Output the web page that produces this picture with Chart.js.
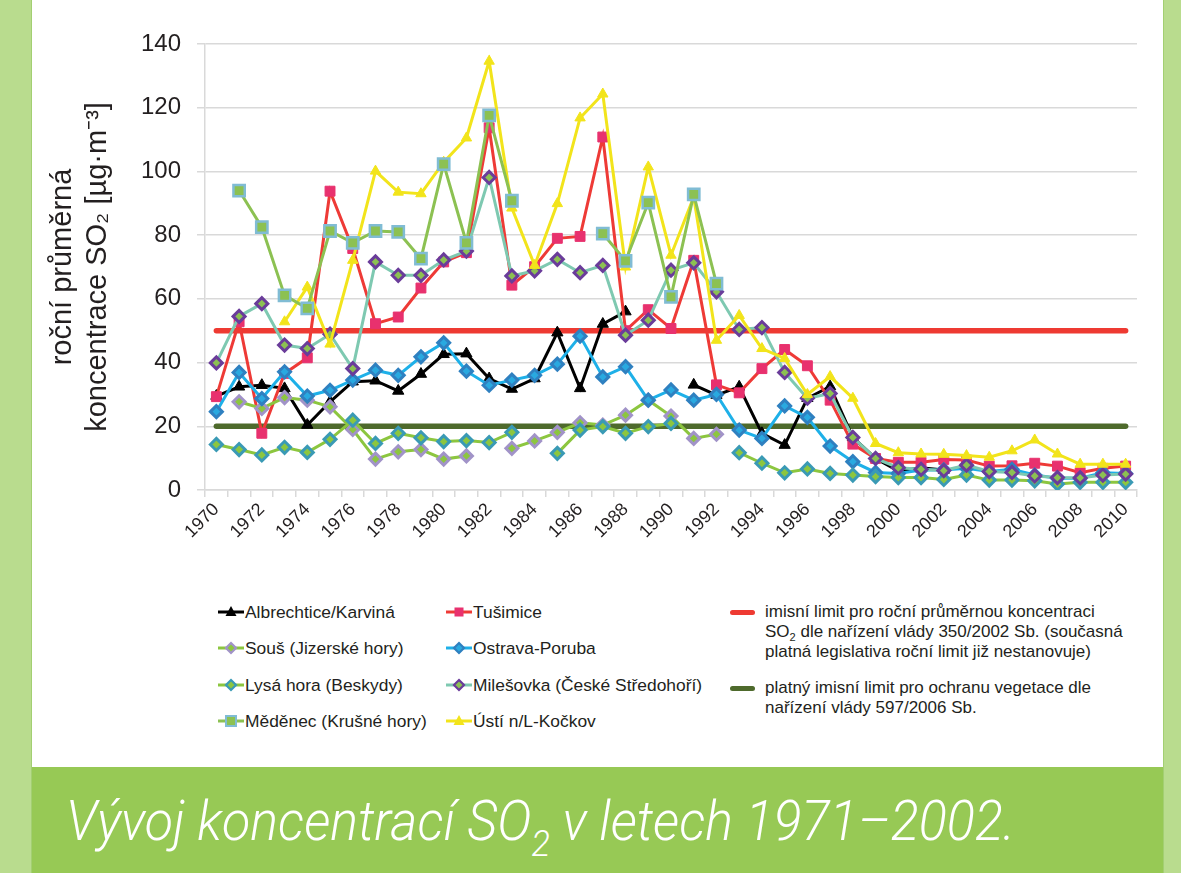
<!DOCTYPE html>
<html lang="cs">
<head>
<meta charset="utf-8">
<title>Vývoj koncentrací SO2</title>
<script src="https://cdn.jsdelivr.net/npm/chart.js@4.4.1/dist/chart.umd.min.js"></script>
<style>
  html, body { margin: 0; padding: 0; }
  body {
    width: 1181px; height: 873px; position: relative; overflow: hidden;
    background: #fff; color: #231f20;
    font-family: "Liberation Sans", Arial, sans-serif;
  }
  .strip { position: absolute; top: 0; bottom: 0; background: #b9dc8e; }
  .strip.left { left: 0; width: 31px; border-right: 1px solid #a3cf72; }
  .strip.right { left: 1163px; width: 18px; border-left: 1px solid #a3cf72; }
  #chartBox { position: absolute; left: 32px; top: 0; width: 1131px; height: 560px; }
  .banner { position: absolute; left: 32px; top: 767px; width: 1131px; height: 106px; background: #97c955; }
  .caption {
    position: absolute; left: 66px; top: 793px; margin: 0;
    font-family: Roboto, "Liberation Sans", sans-serif; font-weight: 300; font-style: italic;
    font-size: 56px; line-height: 56px; color: #fff; white-space: nowrap;
    transform: scaleX(0.93); transform-origin: left top;
  }
  .caption sub { font-size: 0.66em; vertical-align: -0.42em; line-height: 0; }
  .lg { position: absolute; font-size: 17.4px; line-height: 20px; white-space: nowrap; }
  .lg svg { position: absolute; left: -27px; top: 3px; }
  .lg3 { position: absolute; font-size: 17px; line-height: 20px; }
  .lg3 .bar { position: absolute; left: -35px; top: 8px; width: 25px; height: 5px; border-radius: 3px; }
  .lg3 sub { font-size: 0.65em; vertical-align: -0.35em; line-height: 0; }
</style>
</head>
<body>
<div class="strip left"></div>
<div class="strip right"></div>
<div id="chartBox"><canvas id="so2Chart" width="1131" height="560"></canvas></div>

<div id="legend"></div>
<div class="lg3" style="left:765px; top:602px;"><span class="bar" style="background:#ee3a32"></span>imisní limit pro roční průměrnou koncentraci<br>SO<sub>2</sub> dle nařízení vlády 350/2002 Sb. (současná<br>platná legislativa roční limit již nestanovuje)</div>
<div class="lg3" style="left:765px; top:678px;"><span class="bar" style="background:#4e6a2c"></span>platný imisní limit pro ochranu vegetace dle<br>nařízení vlády 597/2006 Sb.</div>

<div class="banner"></div>
<p class="caption">Vývoj koncentrací SO<sub>2</sub> v letech 1971–2002.</p>

<script>
// roky
const years = ['1970','1971','1972','1973','1974','1975','1976','1977','1978','1979',
  '1980','1981','1982','1983','1984','1985','1986','1987','1988','1989',
  '1990','1991','1992','1993','1994','1995','1996','1997','1998','1999',
  '2000','2001','2002','2003','2004','2005','2006','2007','2008','2009','2010'];

// roční průměry SO2 [µg/m3], null = chybí měření
const albrechtice = [29.5, 32.4, 32.9, 31.9, 20.4, 27.7, 34.0, 34.3, 31.1, 36.4,
  42.6, 42.8, 35.0, 31.7, 35.0, 49.4, 31.9, 52.1, 56.0, null,
  null, 33.0, 29.8, 32.4, 17.8, 14.1, 28.8, 32.5, 16.5, 9.9,
  6.0, 7.0, 6.3, null, null, null, null, null, null, null, null];
const tusimice = [29.3, 52.8, 17.8, 36.6, 41.5, 93.8, 75.8, 52.2, 54.3, 63.4,
  71.6, 74.5, 113.7, 64.3, 70.1, 79.0, 79.6, 110.8, 50.0, 56.6,
  50.7, 72.1, 33.0, 30.5, 38.1, 44.1, 39.0, 28.2, 14.4, 9.9,
  8.7, 8.7, 9.6, 9.4, 7.5, 7.6, 8.4, 7.5, 5.4, 6.8, 7.5];
const sous = [null, 27.7, 25.6, 29.0, 28.2, 26.1, 19.0, 9.7, 12.0, 12.7,
  9.7, 10.7, null, 13.1, 15.4, 18.1, 21.1, 20.4, 23.5, 28.2,
  23.2, 16.2, 17.5, null, null, null, null, null, null, null,
  null, null, null, null, null, null, null, null, null, null, null];
const ostrava = [24.6, 36.9, 28.7, 37.1, 29.5, 31.3, 34.5, 37.6, 36.0, 41.8,
  46.2, 37.3, 32.9, 34.5, 36.0, 39.5, 48.3, 35.5, 38.7, 28.2,
  31.4, 28.2, 30.0, 18.8, 16.2, 26.4, 22.8, 13.8, 8.9, 5.5,
  5.2, 6.3, 6.3, 6.8, 5.8, 6.5, 4.7, 3.7, 3.7, 5.4, 5.2];
const lysaHora = [14.3, 12.7, 11.0, 13.4, 11.8, 15.9, 21.9, 14.6, 17.8, 16.4,
  15.2, 15.5, 14.9, 18.1, null, 11.5, 18.8, 19.9, 17.8, 19.9,
  20.9, null, null, 11.7, 8.4, 5.4, 6.6, 5.2, 4.7, 4.2,
  3.9, 3.9, 3.3, 4.7, 3.1, 3.1, 2.9, 1.9, 2.4, 2.4, 2.4];
const milesovka = [39.9, 54.5, 58.5, 45.5, 44.4, 48.9, 38.1, 71.6, 67.4, 67.4,
  72.2, 75.0, 98.1, 67.2, 68.8, 72.4, 68.2, 70.5, 48.6, 53.3,
  69.0, 71.3, 62.2, 50.4, 51.0, 36.9, 28.8, 30.3, 16.5, 9.9,
  7.0, 6.5, 6.1, 7.8, 5.8, 5.5, 4.4, 3.9, 3.8, 4.7, 5.0];
const medenec = [null, 94.0, 82.5, 61.1, 57.0, 81.3, 77.6, 81.3, 81.0, 72.6,
  102.3, 77.6, 117.6, 90.8, null, null, null, 80.5, 71.9, 90.2,
  60.6, 92.8, 64.8, null, null, null, null, null, null, null,
  null, null, null, null, null, null, null, null, null, null, null];
const ustiKockov = [null, null, null, 52.8, 63.7, 45.8, 72.1, 100.1, 93.5, 93.0,
  102.9, 110.5, 134.6, 88.5, 70.5, 89.9, 116.8, 124.3, 70.0, 101.4,
  73.7, 92.0, 47.0, 54.8, 44.4, 41.3, 30.0, 35.6, 28.8, 14.6,
  11.7, 11.3, 11.2, 10.8, 10.3, 12.3, 15.7, 11.3, 8.1, 8.1, 8.1];

// limity
const limitAnnual = 50;      // NV 350/2002
const limitVegetation = 20;  // NV 597/2006

const series = [
  { label: 'Albrechtice/Karviná', data: albrechtice, line: '#000000', fill: '#000000', edge: '#000000', shape: 'triangle', r: 6.5, bw: 1, order: 9 },
  { label: 'Tušimice', data: tusimice, line: '#ee3a36', fill: '#e8316e', edge: '#e8316e', shape: 'rect', r: 7, bw: 1, order: 8 },
  { label: 'Souš (Jizerské hory)', data: sous, line: '#8cc63f', fill: '#8cc63f', edge: '#a193c8', shape: 'rectRot', r: 6, bw: 3, order: 7 },
  { label: 'Ostrava-Poruba', data: ostrava, line: '#1eb0e8', fill: '#29a9e0', edge: '#2f80c0', shape: 'rectRot', r: 6, bw: 3, order: 6 },
  { label: 'Lysá hora (Beskydy)', data: lysaHora, line: '#8cc63f', fill: '#8cc63f', edge: '#3a9ab5', shape: 'rectRot', r: 6, bw: 3, order: 5 },
  { label: 'Milešovka (České Středohoří)', data: milesovka, line: '#7ec9b1', fill: '#8cc152', edge: '#6a3c9a', shape: 'rectRot', r: 6, bw: 3, order: 4 },
  { label: 'Měděnec (Krušné hory)', data: medenec, line: '#8cc152', fill: '#8cc152', edge: '#80bcd4', shape: 'rect', r: 8, bw: 2.5, order: 2 },
  { label: 'Ústí n/L-Kočkov', data: ustiKockov, line: '#f2e41b', fill: '#f2e41b', edge: '#f2e41b', shape: 'triangle', r: 6, bw: 1, order: 3 }
];

const datasets = series.map(s => ({
  label: s.label,
  data: s.data,
  borderColor: s.line,
  borderWidth: 3,
  pointStyle: s.shape,
  pointRadius: s.r,
  pointBackgroundColor: s.fill,
  pointBorderColor: s.edge,
  pointBorderWidth: s.bw,
  tension: 0,
  spanGaps: false,
  order: s.order
}));

datasets.push({
  label: 'imisní limit (roční průměr)',
  data: [{ x: years[0], y: limitAnnual }, { x: years[years.length - 1], y: limitAnnual }],
  borderColor: '#ee3a32', borderWidth: 5.5, borderCapStyle: 'round', pointRadius: 0, order: 11
});
datasets.push({
  label: 'imisní limit (vegetace)',
  data: [{ x: years[0], y: limitVegetation }, { x: years[years.length - 1], y: limitVegetation }],
  borderColor: '#4e6a2c', borderWidth: 5.5, borderCapStyle: 'round', pointRadius: 0, order: 10
});

const ctx = document.getElementById('so2Chart').getContext('2d');
new Chart(ctx, {
  type: 'line',
  data: { labels: years, datasets: datasets },
  options: {
    responsive: false,
    animation: false,
    devicePixelRatio: 1,
    layout: { padding: { top: 44, right: 26, bottom: 0, left: 0 } },
    plugins: { legend: { display: false }, tooltip: { enabled: false } },
    scales: {
      x: {
        type: 'category',
        offset: true,
        afterFit: (scale) => { scale.height = 70; },
        grid: { offset: true, drawOnChartArea: false, drawTicks: true, tickLength: 7, color: '#d9d9d9', lineWidth: 1.5 },
        border: { color: '#d9d9d9', width: 1.5 },
        ticks: {
          autoSkip: false, minRotation: 45, maxRotation: 45, padding: 2,
          color: '#231f20', font: { family: '"Liberation Sans", Arial, sans-serif', size: 18 },
          callback: (val, i) => (i % 2 === 0 ? years[i] : '')
        }
      },
      y: {
        min: 0, max: 140,
        afterFit: (scale) => { scale.width = 173; },
        grid: { color: '#d9d9d9', lineWidth: 1.5, tickLength: 8 },
        border: { color: '#d9d9d9', width: 1.5 },
        ticks: {
          stepSize: 20, padding: 16, color: '#231f20',
          font: { family: '"Liberation Sans", Arial, sans-serif', size: 24 }
        },
        title: {
          display: true,
          text: ['roční průměrná', 'koncentrace SO₂ [µg·m⁻³]'],
          color: '#231f20',
          font: { family: '"Liberation Sans", Arial, sans-serif', size: 29 },
          padding: { top: 14, bottom: 0 }
        }
      }
    }
  }
});

// legenda (HTML)
const legendRows = [612, 648, 685, 721];
const legendEl = document.getElementById('legend');

function markerSvg(s) {
  let m = '';
  const cx = 13, cy = 7;
  if (s.shape === 'triangle') {
    m = `<polygon points="${cx},${cy - 6} ${cx + 5.5},${cy + 4} ${cx - 5.5},${cy + 4}" fill="${s.fill}"/>`;
  } else if (s.shape === 'rect') {
    const h = s.r === 8 ? 5 : 4.5;
    m = `<rect x="${cx - h}" y="${cy - h}" width="${2 * h}" height="${2 * h}" fill="${s.fill}" stroke="${s.edge}" stroke-width="${s.bw > 2 ? 2 : 0}"/>`;
  } else {
    m = `<polygon points="${cx},${cy - 5} ${cx + 5},${cy} ${cx},${cy + 5} ${cx - 5},${cy}" fill="${s.fill}" stroke="${s.edge}" stroke-width="2.2"/>`;
  }
  return `<svg width="26" height="14" viewBox="0 0 26 14"><line x1="0" y1="7" x2="26" y2="7" stroke="${s.line}" stroke-width="3"/>${m}</svg>`;
}

series.forEach((s, i) => {
  const col = i % 2, row = Math.floor(i / 2);
  const div = document.createElement('div');
  div.className = 'lg';
  div.style.left = (col === 0 ? 245 : 473) + 'px';
  div.style.top = (legendRows[row] - 10) + 'px';
  div.innerHTML = markerSvg(s) + s.label;
  legendEl.appendChild(div);
});
</script>
</body>
</html>
